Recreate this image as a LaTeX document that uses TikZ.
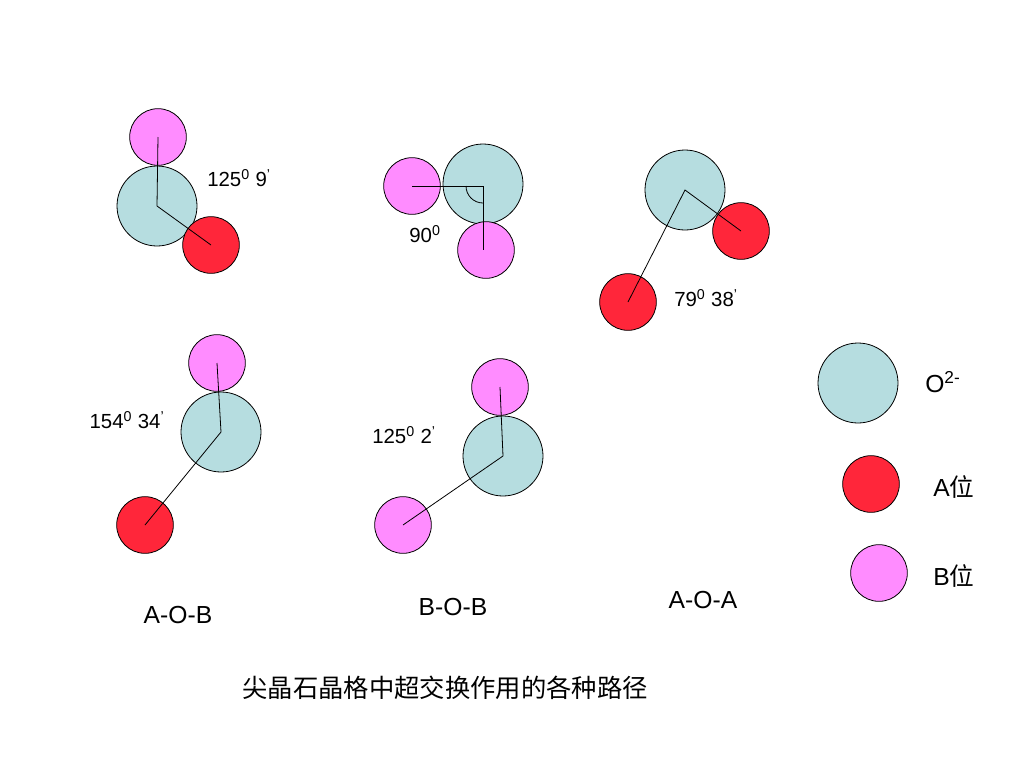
\documentclass[tikz,border=0pt]{standalone}
\usepackage{fontspec}
\setmainfont{Liberation Sans}
\newfontfamily\cjk{Noto Sans CJK SC}
\usepackage{tikz}
\usetikzlibrary{positioning}
\definecolor{oxblue}{RGB}{182,221,224}
\definecolor{ared}{RGB}{255,38,58}
\definecolor{bpink}{RGB}{255,140,255}

\begin{document}
\begin{tikzpicture}[x=0.75pt, y=-0.75pt,
    oxygen/.style={circle, draw=black, line width=0.6pt, fill=oxblue, minimum size=60pt, inner sep=0pt},
    asite/.style={circle, draw=black, line width=0.6pt, fill=ared, minimum size=42.5pt, inner sep=0pt},
    bsite/.style={circle, draw=black, line width=0.6pt, fill=bpink, minimum size=42.5pt, inner sep=0pt},
    bond/.style={line width=0.6pt},
    anglelabel/.style={font=\fontsize{15.3}{18}\selectfont, inner sep=0pt},
    pathlabel/.style={font=\fontsize{18.5}{22}\selectfont, inner sep=0pt}]
      \useasboundingbox (0,0) rectangle (1024,768);
      % A-O-B, upper
      \node[oxygen] (o1) at (157,206) {};
      \node[bsite] (b1) at (158,137) {};
      \node[asite] (a1) at (211,245) {};
      \draw[bond] (b1.center) -- (o1.center) -- (a1.center);
      \node[anglelabel] (t1) at (239,178) {125\textsuperscript{0} 9\textsuperscript{'}};
      % B-O-B, upper
      \node[oxygen] (o2) at (483,184) {};
      \node[bsite] (b2) at (412,186) {};
      \node[bsite] (b3) at (486,250) {};
      \draw[bond] (b2.center) -- (b2.center -| o2.center) -- (b3.center -| o2.center);
      \draw[bond] (b2.center -| o2.center) ++(-17,0) arc[start angle=180, end angle=90, radius=17];
      \node[anglelabel] (t2) at (425,234) {90\textsuperscript{0}};
      % A-O-A
      \node[oxygen] (o3) at (685,190) {};
      \node[asite] (a2) at (741,231) {};
      \node[asite] (a3) at (628,302) {};
      \draw[bond] (a2.center) -- (o3.center) -- (a3.center);
      \node[anglelabel] (t3) at (706,298) {79\textsuperscript{0} 38\textsuperscript{'}};
      % A-O-B, lower
      \node[oxygen] (o4) at (221,432) {};
      \node[bsite] (b4) at (217,363) {};
      \node[asite] (a4) at (145,525) {};
      \draw[bond] (b4.center) -- (o4.center) -- (a4.center);
      \node[anglelabel] (t4) at (127,420) {154\textsuperscript{0} 34\textsuperscript{'}};
      % B-O-B, lower
      \node[oxygen] (o5) at (503,456) {};
      \node[bsite] (b5) at (500,387) {};
      \node[bsite] (b6) at (403,525) {};
      \draw[bond] (b5.center) -- (o5.center) -- (b6.center);
      \node[anglelabel] (t5) at (404,435) {125\textsuperscript{0} 2\textsuperscript{'}};
      % legend
      \node[oxygen] (lo) at (858,383) {};
      \node[asite] (la) at (871,484) {};
      \node[bsite] (lb) at (879,573) {};
      \node[pathlabel, anchor=west] (lot) at (925,382) {O\textsuperscript{2-}};
      \node[pathlabel, anchor=west] (lat) at (933,487) {A{\cjk 位}};
      \node[pathlabel, anchor=west] (lbt) at (933,576) {B{\cjk 位}};
      % path names
      \node[pathlabel] (n1) at (178,615) {A-O-B};
      \node[pathlabel] (n2) at (453,607) {B-O-B};
      \node[pathlabel] (n3) at (703,600) {A-O-A};
      \node[font=\fontsize{19}{23}\selectfont\cjk, inner sep=0pt] (cap) at (445,688) {尖晶石晶格中超交换作用的各种路径};
    \end{tikzpicture}
\end{document}
